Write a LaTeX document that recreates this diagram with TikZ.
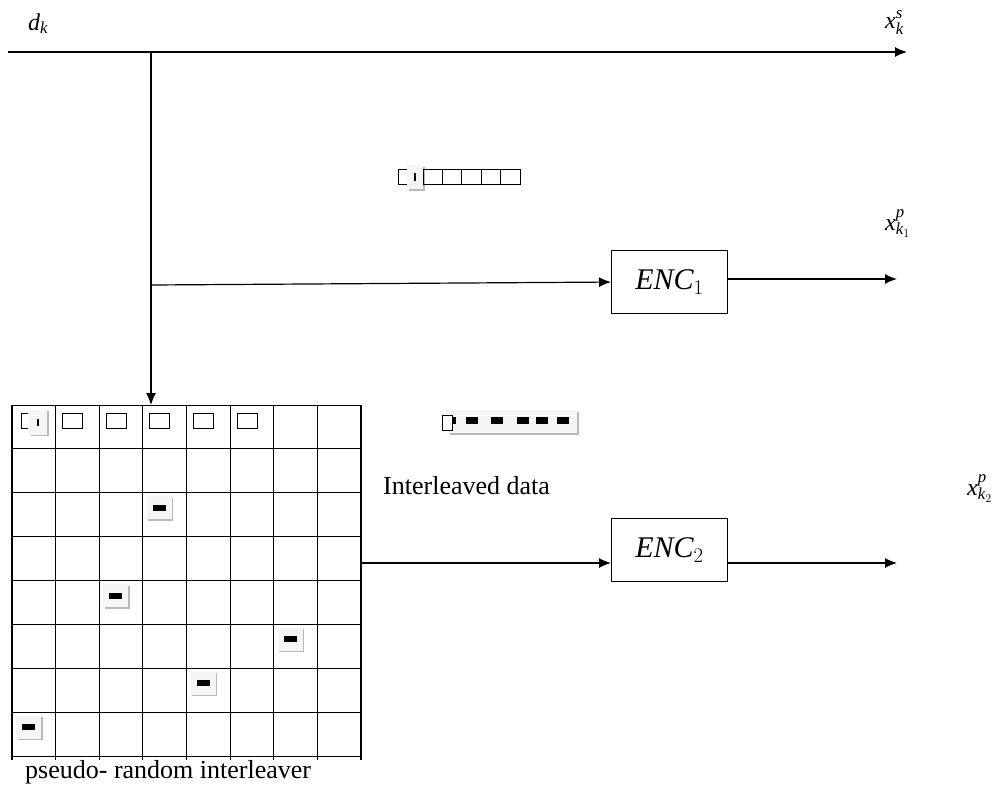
\documentclass[tikz,border=0pt]{standalone}
\usepackage{fontspec}
\setmainfont{Liberation Serif}
\usetikzlibrary{arrows.meta,positioning,shadows}

\begin{document}
\begin{tikzpicture}[
    x=1pt, y=-1pt,
    font=\fontsize{26}{30}\selectfont,
    arr/.style={-{Latex[length=12pt,width=10pt]}, line width=1.2pt},
    encbox/.style={draw, line width=1.1pt, minimum width=116pt, minimum height=63pt, inner sep=0pt, font=\fontsize{30}{34}\selectfont},
    lbl/.style={inner sep=0pt, anchor=base west},
    sym/.style={lbl, font=\fontsize{24}{28}\selectfont},
    gridline/.style={line width=1.1pt},
    slot/.style={line width=0.9pt},
    hilite/.style={fill=gray!8, drop shadow={shadow xshift=1.5pt, shadow yshift=-1.5pt, fill=gray!55, opacity=1}},
    bitcell/.style={hilite, minimum width=25pt, minimum height=23pt, inner sep=0pt}
  ]
  \useasboundingbox (0,0) rectangle (992,787);

  % systematic output
  \coordinate (din) at (8,52);
  \coordinate (split) at (151,52);
  \coordinate (xs) at (907,52);
  \draw[arr] (din) -- (xs);
  \node[sym] (dk) at (28,30) {$\mathit{d}_{\mathit{k}}$};
  \node[sym] (xsk) at (885,28) {$\mathit{x}^{\mathit{s}}_{\mathit{k}}$};

  % interleaver matrix
  \node[draw, line width=1.1pt, minimum width=349pt, minimum height=351pt, inner sep=0pt, anchor=north west] (ileave) at (12,405) {};
  \foreach \i in {0,...,8}
    \draw[gridline] ({12+\i*43.625},405) -- ({12+\i*43.625},760);
  \foreach \j in {1,...,7}
    \draw[gridline] (12,{405+\j*43.875}) -- (361,{405+\j*43.875});
  \draw[arr] (split) -- (split |- ileave.north);

  % first row of the matrix
  \draw[slot] (28,413) -- (21,413) -- (21,428) -- (28,428);
  \node[hilite, minimum width=18pt, minimum height=25pt, inner sep=0pt] (cur1) at (38,422) {\rule{1.2pt}{7pt}};
  \foreach \c in {1,...,5}
    \draw[slot] ({12+\c*43.625+7},413) rectangle ++(20,15);
  \foreach \c/\r [count=\n] in {4/3,3/5,7/6,5/7,1/8}
    \node[bitcell] (bit\n) at ({12+(\c-1)*43.625+16.5},{405+(\r-1)*43.875+15}) {\rule{13pt}{6pt}};

  % data block
  \draw[slot] (407,169) -- (398,169) -- (398,184) -- (407,184);
  \node[hilite, minimum width=16pt, minimum height=24pt, inner sep=0pt] (cur2) at (415,177) {\rule{1.2pt}{8pt}};
  \foreach \k in {0,...,4}
    \draw[slot] ({423+\k*19.4},169) rectangle ++(19.4,15);

  % interleaved block
  \node[hilite, minimum width=129pt, minimum height=23pt, inner sep=0pt, anchor=north west] (seq) at (448,410) {};
  \draw[slot, fill=white] (442,415) rectangle (452,430);
  \fill (453,417) rectangle (456,424);
  \foreach \b in {466,491,517,536,557}
    \fill (\b,417) rectangle ++(12,7);
  \node[lbl] (ildata) at (383,494) {Interleaved data};
  \node[lbl] (ilname) at (25,778) {pseudo- random interleaver};

  % encoder 1
  \node[encbox, anchor=north west] (enc1) at (611,250) {$\mathit{ENC}_1$};
  \coordinate (branch) at (151,285);
  \coordinate (xp1) at (897,279);
  \draw[arr] (branch) -- (enc1.west);
  \draw[arr] (enc1.east |- xp1) -- (xp1);
  \node[sym] (xpk1) at (885,230) {$\mathit{x}^{\mathit{p}}_{\mathit{k}_1}$};

  % encoder 2
  \node[encbox, anchor=north west] (enc2) at (611,518) {$\mathit{ENC}_2$};
  \coordinate (y2) at (0,563);
  \coordinate (xp2) at (897,563);
  \draw[arr] (ileave.east |- y2) -- (enc2.west |- y2);
  \draw[arr] (enc2.east |- y2) -- (xp2);
  \node[sym] (xpk2) at (967,495) {$\mathit{x}^{\mathit{p}}_{\mathit{k}_2}$};
\end{tikzpicture}
\end{document}
